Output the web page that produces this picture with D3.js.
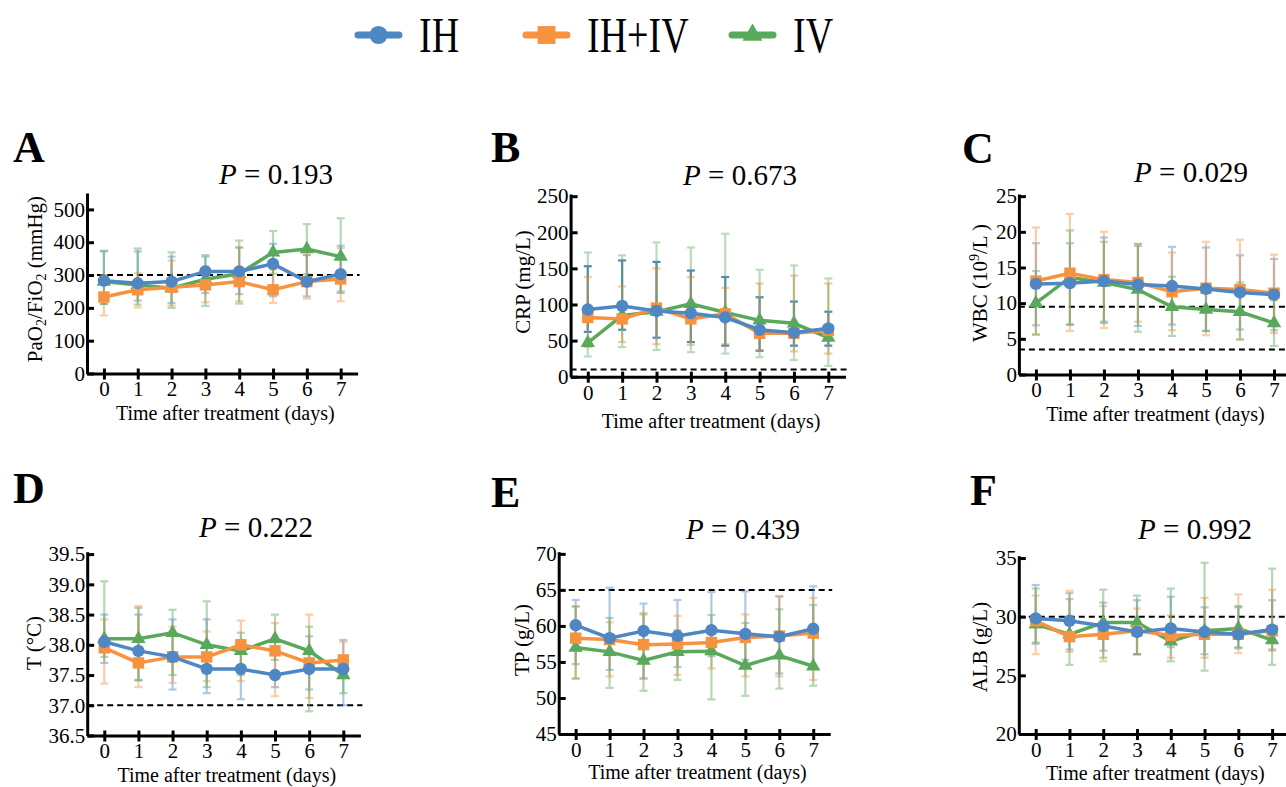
<!DOCTYPE html>
<html lang="en">
<head>
    <meta charset="UTF-8">
    <title>Indicators after treatment</title>
    <script src="https://d3js.org/d3.v7.min.js"></script>
    <style>
        body { margin: 0; background: #fff; }
        svg text { font-family: "Liberation Serif", "Times New Roman", serif; }
        .axis path, .axis line { stroke: #000; stroke-width: 3; }
    </style>
</head>
<body>
<svg id="chart" width="1286" height="787"></svg>
<script>
// ---- data ----
var days = [0, 1, 2, 3, 4, 5, 6, 7];
var groups = ["IH", "IH+IV", "IV"];
var groupColors = ["#4f86c4", "#f7923f", "#5aa85b"];

// A  PaO2/FiO2
var pfIH     = [283, 275, 280, 311, 311, 334, 280, 303];
var pfIHhi   = [374, 372, 356, 356, 384, 395, 361, 389];
var pfIHlo   = [212, 222, 215, 245, 242, 235, 235, 245];
var pfIHIV   = [233, 255, 263, 270, 280, 255, 280, 288];
var pfIHIVhi = [300, 306, 344, 326, 384, 316, 361, 382];
var pfIHIVlo = [177, 201, 207, 217, 220, 215, 228, 220];
var pfIV     = [280, 270, 260, 287, 304, 369, 379, 356];
var pfIVhi   = [372, 381, 369, 361, 405, 434, 455, 473];
var pfIVlo   = [212, 210, 200, 206, 213, 304, 303, 250];

// B  CRP
var crpIH     = [93, 98, 91, 88, 82, 65, 61, 67];
var crpIHhi   = [153, 161, 159, 147, 138, 110, 104, 90];
var crpIHlo   = [62, 65, 54, 48, 43, 36, 43, 43];
var crpIHIV   = [82, 80, 95, 80, 87, 60, 60, 64];
var crpIHIVhi = [138, 125, 150, 138, 123, 129, 140, 129];
var crpIHIVlo = [41, 48, 45, 44, 45, 37, 35, 32];
var crpIV     = [47, 85, 90, 101, 89, 78, 74, 54];
var crpIVhi   = [172, 168, 186, 179, 198, 148, 154, 136];
var crpIVlo   = [28, 41, 37, 34, 32, 27, 23, 15];

// C  WBC
var wbcIH     = [12.7, 12.8, 13.1, 12.6, 12.4, 12.0, 11.5, 11.2];
var wbcIHhi   = [18.4, 18.4, 19.2, 18.3, 17.9, 17.8, 16.7, 16.2];
var wbcIHlo   = [6.9, 7.0, 7.4, 6.8, 7.0, 6.1, 6.3, 6.2];
var wbcIHIV   = [13.1, 14.2, 13.3, 12.9, 11.6, 12.1, 11.9, 11.4];
var wbcIHIVhi = [20.6, 22.5, 20.0, 18.3, 17.1, 18.6, 18.9, 16.8];
var wbcIHIVlo = [5.6, 6.1, 6.5, 7.4, 6.2, 5.5, 4.9, 5.8];
var wbcIV     = [10.0, 13.6, 12.9, 11.9, 9.5, 9.1, 8.8, 7.2];
var wbcIVhi   = [14.5, 20.2, 18.6, 18.0, 13.7, 12.2, 12.9, 10.4];
var wbcIVlo   = [5.6, 7.0, 7.2, 6.0, 5.4, 6.1, 4.9, 4.0];

// D  Temperature
var tIH     = [38.05, 37.90, 37.80, 37.60, 37.60, 37.50, 37.60, 37.60];
var tIHhi   = [38.50, 38.50, 38.42, 38.42, 38.08, 38.08, 38.14, 38.08];
var tIHlo   = [37.70, 37.41, 37.26, 37.20, 37.10, 37.30, 37.26, 37.00];
var tIHIV   = [37.95, 37.70, 37.80, 37.80, 38.00, 37.90, 37.70, 37.75];
var tIHIVhi = [38.42, 38.64, 38.30, 38.22, 38.40, 38.36, 38.50, 38.05];
var tIHIVlo = [37.36, 37.30, 37.37, 37.40, 37.40, 37.15, 37.12, 37.45];
var tIV     = [38.10, 38.10, 38.20, 38.00, 37.90, 38.10, 37.90, 37.50];
var tIVhi   = [39.05, 38.61, 38.58, 38.72, 38.20, 38.50, 38.30, 37.75];
var tIVlo   = [37.80, 37.42, 37.50, 37.30, 37.50, 37.75, 36.90, 37.20];

// E  TP
var tpIH     = [60.1, 58.3, 59.3, 58.6, 59.4, 58.9, 58.5, 59.6];
var tpIHhi   = [63.6, 65.3, 63.1, 63.6, 64.7, 64.8, 64.1, 65.5];
var tpIHlo   = [54.7, 53.9, 52.7, 54.3, 55.8, 55.3, 53.4, 54.4];
var tpIHIV   = [58.3, 58.1, 57.4, 57.5, 57.7, 58.4, 58.6, 59.0];
var tpIHIVhi = [62.7, 60.5, 61.8, 61.4, 59.4, 61.6, 64.1, 63.9];
var tpIHIVlo = [52.7, 53.0, 52.7, 53.2, 54.1, 53.0, 53.0, 52.5];
var tpIV     = [57.0, 56.4, 55.2, 56.4, 56.5, 54.5, 55.9, 54.4];
var tpIVhi   = [62.7, 61.1, 61.6, 59.4, 61.5, 60.4, 62.3, 62.9];
var tpIVlo   = [52.7, 51.4, 51.0, 52.5, 49.8, 50.3, 51.3, 51.7];

// F  ALB
var albIH     = [29.85, 29.65, 29.2, 28.7, 29.0, 28.7, 28.5, 28.9];
var albIHhi   = [32.7, 32.0, 31.2, 31.4, 31.7, 30.8, 30.8, 31.4];
var albIHlo   = [27.7, 27.2, 27.1, 26.8, 27.4, 26.8, 27.3, 27.2];
var albIHIV   = [29.65, 28.3, 28.5, 28.8, 28.4, 28.5, 28.5, 28.8];
var albIHIVhi = [31.8, 32.2, 30.9, 30.7, 30.1, 31.6, 31.9, 32.3];
var albIHIVlo = [26.8, 27.0, 26.2, 26.8, 26.5, 26.5, 26.9, 27.1];
var albIV     = [29.35, 28.5, 29.5, 29.5, 27.9, 28.8, 29.0, 28.0];
var albIVhi   = [32.4, 31.5, 32.3, 31.8, 32.4, 34.6, 30.9, 34.1];
var albIVlo   = [27.8, 25.9, 26.5, 26.8, 26.2, 25.4, 27.4, 25.9];

var pValues = ["0.193", "0.673", "0.029", "0.222", "0.439", "0.992"];
var panelLetters = ["A", "B", "C", "D", "E", "F"];
var refLines = [[300], [10], [9.5, 3.5], [37], [65], [30]];
var yTicks = [
    [0, 100, 200, 300, 400, 500],
    [0, 50, 100, 150, 200, 250],
    [0, 5, 10, 15, 20, 25],
    [36.5, 37.0, 37.5, 38.0, 38.5, 39.0, 39.5],
    [45, 50, 55, 60, 65, 70],
    [20, 25, 30, 35]
];

var FONT = '"Liberation Serif", "Times New Roman", serif';

// ---- panel layout ----
var panels = [
    { left: 87, right: 357.6, bottom: 373.5, top: 193, ymin: 0, ymax: 550,
      series: [[pfIH, pfIHlo, pfIHhi], [pfIHIV, pfIHIVlo, pfIHIVhi], [pfIV, pfIVlo, pfIVhi]],
      letter: [13, 162], title: [276, 184], xlab: 420, ylab: [42, 279], errOp: [0.45, 0.45, 0.45] },
    { left: 570.6, right: 845.5, bottom: 376.7, top: 194, ymin: 0, ymax: 253,
      series: [[crpIH, crpIHlo, crpIHhi], [crpIHIV, crpIHIVlo, crpIHIVhi], [crpIV, crpIVlo, crpIVhi]],
      letter: [491, 162], title: [740, 185], xlab: 428, ylab: [530, 282], errOp: [1, 0.5, 0.4] },
    { left: 1018.9, right: 1291, bottom: 374.5, top: 194, ymin: 0, ymax: 25.3,
      series: [[wbcIH, wbcIHlo, wbcIHhi], [wbcIHIV, wbcIHIVlo, wbcIHIVhi], [wbcIV, wbcIVlo, wbcIVhi]],
      letter: [962, 163], title: [1191, 182], xlab: 421, ylab: [987, 283], errOp: [0.45, 0.45, 0.45] },
    { left: 87.2, right: 360.4, bottom: 735.5, top: 551.7, ymin: 36.5, ymax: 39.54,
      series: [[tIH, tIHlo, tIHhi], [tIHIV, tIHIVlo, tIHIVhi], [tIV, tIVlo, tIVhi]],
      letter: [13, 503], title: [256, 537], xlab: 782, ylab: [41, 643], errOp: [0.45, 0.45, 0.45], fmt: ".1f" },
    { left: 558.7, right: 830.2, bottom: 734, top: 551.7, ymin: 45, ymax: 70.3,
      series: [[tpIH, tpIHlo, tpIHhi], [tpIHIV, tpIHIVlo, tpIHIVhi], [tpIV, tpIVlo, tpIVhi]],
      letter: [491, 507], title: [743, 539], xlab: 779, ylab: [529, 640], errOp: [0.45, 0.45, 0.45] },
    { left: 1018.8, right: 1289, bottom: 734, top: 555.7, ymin: 20, ymax: 35.2,
      series: [[albIH, albIHlo, albIHhi], [albIHIV, albIHIVlo, albIHIVhi], [albIV, albIVlo, albIVhi]],
      letter: [970, 505], title: [1195, 539], xlab: 780, ylab: [987, 647], errOp: [0.45, 0.45, 0.45] }
];

var svg = d3.select("#chart");

function marker(i, size) {
    var types = [d3.symbolCircle, d3.symbolSquare, d3.symbolTriangle];
    return d3.symbol().type(types[i]).size(size)();
}

// y label builders (sub/superscripts)
function yLabel(t, i) {
    if (i == 0) {
        t.append("tspan").text("PaO");
        t.append("tspan").text("2").attr("font-size", 14).attr("dy", 4);
        t.append("tspan").text("/FiO").attr("dy", -4);
        t.append("tspan").text("2").attr("font-size", 14).attr("dy", 4);
        t.append("tspan").text(" (mmHg)").attr("dy", -4);
    } else if (i == 1) {
        t.text("CRP (mg/L)");
    } else if (i == 2) {
        t.append("tspan").text("WBC (10");
        t.append("tspan").text("9").attr("font-size", 14).attr("dy", -8);
        t.append("tspan").text("/L )").attr("dy", 8);
    } else if (i == 3) {
        t.text("T (\u00B0C)");
    } else if (i == 4) {
        t.text("TP (g/L)");
    } else {
        t.text("ALB (g/L)");
    }
}

function styleAxisText(a) {
    a.attr("font-family", null).attr("font-size", null);
    a.selectAll("text").style("font-family", FONT).attr("font-size", 21).attr("fill", "#000");
}

panels.forEach(function(p, i) {
    var g = svg.append("g");
    var x = d3.scaleLinear().domain([-0.5, 7.5]).range([p.left, p.right]);
    var y = d3.scaleLinear().domain([p.ymin, p.ymax]).range([p.bottom, p.top]);

    // reference lines
    refLines[i].forEach(function(v) {
        g.append("line")
            .attr("x1", p.left).attr("x2", p.right + 2)
            .attr("y1", y(v)).attr("y2", y(v))
            .attr("stroke", "#000").attr("stroke-width", 2)
            .attr("stroke-dasharray", "6,4");
    });

    // error bars
    p.series.forEach(function(s, k) {
        var eg = g.append("g")
            .attr("stroke", groupColors[k])
            .attr("stroke-width", 2.2)
            .attr("opacity", p.errOp[k]);
        days.forEach(function(d, j) {
            eg.append("line").attr("x1", x(d)).attr("x2", x(d))
                .attr("y1", y(s[1][j])).attr("y2", y(s[2][j]));
            [s[1][j], s[2][j]].forEach(function(v) {
                eg.append("line").attr("x1", x(d) - 4).attr("x2", x(d) + 4)
                    .attr("y1", y(v)).attr("y2", y(v));
            });
        });
    });

    // lines and markers, IV first so IH ends up on top
    [2, 1, 0].forEach(function(k) {
        var s = p.series[k];
        var line = d3.line().x(function(d, j) { return x(days[j]); }).y(function(d) { return y(d); });
        g.append("path").datum(s[0])
            .attr("d", line)
            .attr("fill", "none")
            .attr("stroke", groupColors[k])
            .attr("stroke-width", 3.5);
        g.selectAll(null).data(s[0]).enter().append("path")
            .attr("d", marker(k, k == 2 ? 90 : (k == 1 ? 130 : 120)))
            .attr("transform", function(d, j) { return "translate(" + x(days[j]) + "," + y(d) + ")"; })
            .attr("fill", groupColors[k]);
    });

    // axes
    var yAxis = d3.axisLeft(y).tickValues(yTicks[i]).tickSizeInner(-7).tickSizeOuter(0).tickPadding(2);
    if (p.fmt) yAxis.tickFormat(d3.format(p.fmt));
    g.append("g").attr("class", "axis")
        .attr("transform", "translate(" + p.left + ",0)")
        .call(yAxis)
        .call(styleAxisText);

    g.append("g").attr("class", "axis")
        .attr("transform", "translate(0," + p.bottom + ")")
        .call(d3.axisBottom(x).tickValues(days).tickSize(0).tickPadding(8))
        .call(function(a) { a.selectAll(".tick line").attr("y1", -5).attr("y2", 6); })
        .call(styleAxisText);

    // texts
    g.append("text")
        .attr("x", p.letter[0]).attr("y", p.letter[1])
        .attr("font-size", 44).attr("font-weight", "bold")
        .text(panelLetters[i]);

    var tt = g.append("text")
        .attr("x", p.title[0]).attr("y", p.title[1])
        .attr("text-anchor", "middle").attr("font-size", 29);
    tt.append("tspan").attr("font-style", "italic").text("P");
    tt.append("tspan").text(" = " + pValues[i]);

    g.append("text")
        .attr("x", (p.left + Math.min(p.right, 1286)) / 2 + 3).attr("y", p.xlab)
        .attr("text-anchor", "middle").attr("font-size", 20)
        .text("Time after treatment (days)");

    var yl = g.append("text")
        .attr("text-anchor", "middle").attr("font-size", 21)
        .attr("transform", "translate(" + p.ylab[0] + "," + p.ylab[1] + ") rotate(-90)");
    yLabel(yl, i);
});

// legend
var legendX = [358, 526, 732];
var lg = svg.append("g");
groups.forEach(function(name, k) {
    var x0 = legendX[k];
    lg.append("line")
        .attr("x1", x0).attr("x2", x0 + 41)
        .attr("y1", 35).attr("y2", 35)
        .attr("stroke", groupColors[k]).attr("stroke-width", 7)
        .attr("stroke-linecap", "round");
    lg.append("path")
        .attr("d", marker(k, k == 0 ? 260 : (k == 1 ? 320 : 170)))
        .attr("transform", "translate(" + (x0 + 20.5) + ",35)")
        .attr("fill", groupColors[k]);
    lg.append("text")
        .attr("transform", "translate(" + (x0 + 61) + ",52) scale(1,1.35)")
        .attr("font-size", 38)
        .text(name);
});
</script>
</body>
</html>
